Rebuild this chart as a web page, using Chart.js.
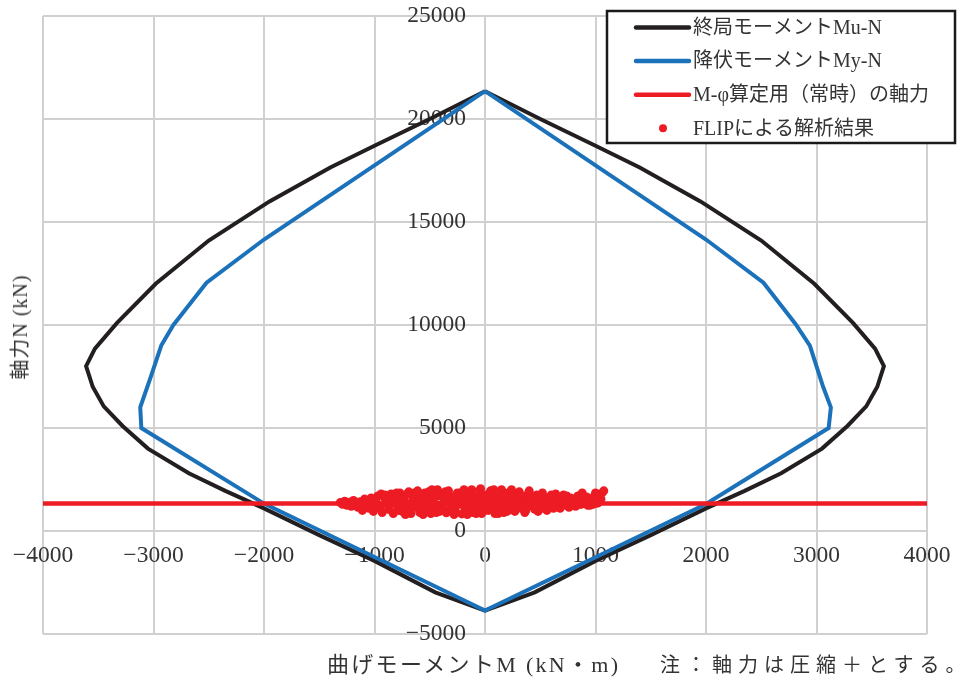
<!DOCTYPE html>
<html><head><meta charset="utf-8">
<script src="https://cdn.jsdelivr.net/npm/chart.js@4.4.0/dist/chart.umd.min.js"></script>
<style>
html,body{margin:0;padding:0;background:#fff;}
#wrap{position:relative;width:964px;height:686px;overflow:hidden;background:#fff;}
canvas{position:absolute;left:0;top:0;}
.t{position:absolute;white-space:nowrap;color:#333;font-family:"Liberation Serif","Noto Sans CJK JP",serif;line-height:1;}
#ytitle{left:20px;top:327px;font-size:20px;letter-spacing:1px;transform:translate(-50%,-50%) rotate(-90deg);}
#xtitle{left:327px;top:654px;font-size:22px;letter-spacing:2.3px;}
#note{left:660px;top:655px;font-size:20px;letter-spacing:6px;}
</style></head><body>
<div id="wrap">
<canvas id="c" width="964" height="686"></canvas>
<div class="t" id="ytitle">軸力N (kN)</div>
<div class="t" id="xtitle">曲げモーメントM (kN・m)</div>
<div class="t" id="note">注：軸力は圧縮＋とする。</div>
</div>
<script>
// ---- data ----
const seriesLabels = ['終局モーメントMu-N', '降伏モーメントMy-N', 'M-φ算定用（常時）の軸力', 'FLIPによる解析結果'];

// Ultimate moment Mu-N interaction curve (kN·m, kN)
const muM = [0, -500, -1000, -1400, -1950, -2500, -2980, -3330, -3530, -3610, -3550, -3450, -3280, -3050, -2680, -2350, -2000, -1500, -1000, -450, 0,
             450, 1000, 1500, 2000, 2350, 2680, 3050, 3280, 3450, 3550, 3610, 3530, 3330, 2980, 2500, 1950, 1400, 1000, 500, 0];
const muN = [21350, 20000, 18700, 17650, 16000, 14100, 12000, 10100, 8850, 8000, 7000, 6050, 5100, 4000, 2800, 1950, 1100, -200, -1450, -2980, -3860,
             -2980, -1450, -200, 1100, 1950, 2800, 4000, 5100, 6050, 7000, 8000, 8850, 10100, 12000, 14100, 16000, 17650, 18700, 20000, 21350];

// Yield moment My-N interaction curve
const myM = [0, -2000, -2520, -2820, -2930, -3030, -3120, -3110, -2000, 0, 2000, 3110, 3130, 3060, 2940, 2810, 2520, 2000, 0];
const myN = [21350, 14150, 12050, 10000, 9000, 7400, 6000, 5000, 1330, -3860, 1310, 5000, 6000, 7000, 9000, 10050, 12050, 14150, 21350];

// Axial force used for M-phi (permanent)
const axialM = [-4000, 4000];
const axialN = [1340, 1340];

// FLIP analysis results (M, N)
const flipM = [-1310,-1290,-1270,-1250,-1230,-1210,-1190,-1170,-1150,-1130,-1110,-1090,-1070,-1050,-1030,-1010,-990,-970,-950,-930,
 -910,-890,-870,-850,-830,-810,-790,-770,-750,-730,-710,-690,-670,-650,-630,-610,-590,-570,-550,-530,
 -510,-490,-470,-450,-430,-410,-390,-370,-350,-330,-310,-290,-270,-250,-230,-210,-190,-170,-150,-130,
 -110,-90,-70,-50,-30,-10,10,30,50,70,90,110,130,150,170,190,210,230,250,270,
 290,310,330,350,370,390,410,430,450,470,490,510,530,550,570,600,630,660,690,720,
 750,780,810,840,870,900,930,960,990,1020,1050,1060,1075,
 -1000,-960,-900,-860,-820,-780,-740,-700,-660,-620,-580,-540,-500,-460,-420,-380,-340,-300,-260,-220,
 -180,-140,-100,-60,-20,20,60,100,140,180,220,260,300,340,380,420,460,500,540,580,
 620,650,700,740,800,860,920,980,1040,
 -940,-800,-720,-640,-560,-480,-440,-360,-280,-200,-160,-120,-80,-40,0,40,80,120,160,200,
 240,280,320,360,400,440,480,520,560,590,640,680,710,760,820,880,950,1000,
 -985,-945,-905,-865,-825,-785,-745,-705,-665,-625,-585,-545,-505,-465,-425,-385,-345,-305,-265,-225,
 -185,-145,-105,-65,-25,15,55,95,135,175,215,255,295,335,375,415,455,495,535,575,
 615,655,695,735,775,815,855,895,935,975];
const flipN = [1380,1300,1450,1250,1400,1200,1480,1300,1150,1420,1000,1550,1250,1100,1600,950,1450,1700,1150,900,
 1650,1350,1050,1800,850,1550,1200,1850,950,1650,1350,1900,850,1550,1150,1950,900,1750,1300,1050,
 1900,850,1600,1200,2000,950,1750,1400,880,1950,1150,1650,1000,1850,1300,830,2000,1500,1050,1800,
 900,1600,1200,1950,850,1450,1750,1000,1950,1300,850,1650,1150,2000,900,1500,1850,1050,1700,950,
 1400,1900,1100,1600,1000,1800,1250,1550,1050,1750,1300,1100,1650,1450,1150,1750,1350,1200,1600,1300,
 1500,1250,1450,1700,1300,1550,1250,1450,1700,1350,1550,1850,1950,
 1300,1250,1500,1600,1350,1000,1500,1100,1750,1450,1050,1600,1400,1800,1250,1050,1550,1350,1500,1700,
 1100,1350,1450,1700,1250,1550,1150,1450,1350,1750,1250,1500,1200,1450,1300,1700,1450,1550,1250,1550,
 1100,1500,1400,1700,1350,1450,1650,1300,1450,
 1800,1850,800,1850,800,2000,900,1900,800,1900,800,2000,850,2050,1000,1650,2000,850,1850,950,
 2000,1250,1750,900,1950,1400,950,1850,1000,1650,1800,1100,1750,1150,1200,1850,1250,1850,
 1550,1200,1750,1050,1650,1450,1250,1800,1300,1650,1400,1850,1150,1550,1700,1300,1750,1100,1650,1850,
 1450,1700,1250,1500,1650,1200,1800,1550,1700,1050,1600,1350,1650,1450,1200,1500,1150,1700,1450,1300,
 1600,1350,1550,1250,1600,1450,1300,1400,1550,1550];

// axis ticks
const xTicks = { min: -4000, max: 4000, step: 1000 };
const yTicks = { min: -5000, max: 25000, step: 5000 };

// ---- chart ----
const pts = (xs, ys) => xs.map((x, i) => ({ x: x, y: ys[i] }));
const fmt = v => (v < 0 ? '\u2212' + Math.abs(v) : String(v));
const GRID = '#d0d0d0';
const TXT = '#333333';
const TICKFONT = { family: '"Liberation Serif", serif', size: 23.5 };

const legendPlugin = {
  id: 'boxLegend',
  afterDraw(chart) {
    const ctx = chart.ctx;
    const bx = 607, by = 11, bw = 348, bh = 132;
    ctx.save();
    ctx.fillStyle = '#ffffff';
    ctx.fillRect(bx, by, bw, bh);
    ctx.lineWidth = 2.5;
    ctx.strokeStyle = '#1a1a1a';
    ctx.strokeRect(bx, by, bw, bh);
    ctx.font = '20px "Liberation Serif", "Noto Sans CJK JP", serif';
    ctx.textBaseline = 'middle';
    ctx.textAlign = 'left';
    chart.data.datasets.forEach((ds, i) => {
      const y = 27.5 + i * 33.6;
      if (ds.showLine) {
        ctx.beginPath();
        ctx.lineCap = 'round';
        ctx.lineWidth = 4.5;
        ctx.strokeStyle = ds.borderColor;
        ctx.moveTo(636, y);
        ctx.lineTo(689, y);
        ctx.stroke();
      } else {
        ctx.beginPath();
        ctx.fillStyle = ds.backgroundColor;
        ctx.arc(663, y, 4, 0, Math.PI * 2);
        ctx.fill();
      }
      ctx.fillStyle = TXT;
      ctx.fillText(ds.label, 693, y + 1);
    });
    ctx.restore();
  }
};

new Chart(document.getElementById('c'), {
  type: 'scatter',
  data: {
    datasets: [
      { label: seriesLabels[0], data: pts(muM, muN), showLine: true, borderColor: '#231f20', backgroundColor: '#231f20',
        borderWidth: 4, pointRadius: 0, tension: 0, order: 4 },
      { label: seriesLabels[1], data: pts(myM, myN), showLine: true, borderColor: '#1c72ba', backgroundColor: '#1c72ba',
        borderWidth: 4, pointRadius: 0, tension: 0, order: 3 },
      { label: seriesLabels[2], data: pts(axialM, axialN), showLine: true, borderColor: '#ed1c24', backgroundColor: '#ed1c24',
        borderWidth: 4.5, pointRadius: 0, tension: 0, order: 2 },
      { label: seriesLabels[3], data: pts(flipM, flipN), showLine: false, backgroundColor: '#ed1c24', borderColor: '#ed1c24',
        borderWidth: 0, pointRadius: 4.5, order: 1 }
    ]
  },
  options: {
    responsive: false,
    animation: false,
    devicePixelRatio: 1,
    layout: { padding: { left: 43, right: 37, top: 16, bottom: 52 } },
    plugins: { legend: { display: false }, tooltip: { enabled: false } },
    scales: {
      x: {
        type: 'linear', position: { y: 0 }, min: xTicks.min, max: xTicks.max,
        grid: { color: GRID, lineWidth: 2, drawTicks: false },
        border: { color: GRID, width: 2 },
        ticks: { stepSize: xTicks.step, maxRotation: 0, autoSkip: false, padding: 11, color: TXT, font: TICKFONT, callback: fmt }
      },
      y: {
        type: 'linear', position: 'center', min: yTicks.min, max: yTicks.max,
        grid: { color: GRID, lineWidth: 2, drawTicks: false },
        border: { color: GRID, width: 2 },
        ticks: { stepSize: yTicks.step, autoSkip: false, padding: 19, color: TXT, font: TICKFONT, callback: fmt },
        afterFit(scale) { scale.paddingTop = 0; scale.paddingBottom = 0; }
      }
    }
  },
  plugins: [legendPlugin]
});
</script>
</body></html>
